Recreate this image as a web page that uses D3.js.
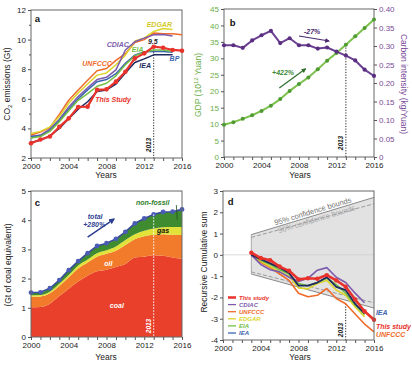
<!DOCTYPE html>
<html>
<head>
<meta charset="utf-8">
<script src="https://cdnjs.cloudflare.com/ajax/libs/d3/7.8.5/d3.min.js"></script>
<style>
body { margin: 0; background: #fff; }
svg { font-family: "Liberation Sans", Arial, sans-serif; }
.axis text { font-size: 8px; fill: #222; }
.axis path, .axis line { stroke: #555; }
.ttl { font-size: 8.5px; fill: #222; }
.lab { font-size: 7px; font-weight: bold; font-style: italic; }
.plab { font-size: 9.5px; font-weight: bold; }
</style>
</head>
<body>
<div id="chart"></div>
<script>
// ---- data ----
var years = [2000,2001,2002,2003,2004,2005,2006,2007,2008,2009,2010,2011,2012,2013,2014,2015,2016];
var labelYears = [2000,2004,2008,2012,2016];

// a: CO2 emissions (Gt)
var thisStudy = [3.0,3.25,3.45,4.1,4.68,5.45,5.47,6.6,6.64,7.16,7.83,8.73,9.07,9.52,9.45,9.3,9.25];
var unfccc = [3.55,3.75,4.05,4.95,5.9,6.6,7.25,7.9,8.05,8.6,9.05,9.8,10.0,10.45,10.4,10.4,10.33];
var edgar  = [3.65,3.8,4.1,4.8,5.7,6.4,7.0,7.6,7.75,8.3,8.95,9.9,10.1,10.55,10.75,10.68];
var cdiac  = [3.45,3.55,3.95,4.6,5.45,6.15,6.75,7.3,7.45,7.95,9.3,9.85,10.1,10.33,10.35,10.25];
var eia    = [3.35,3.45,3.8,4.45,5.2,5.9,6.35,6.85,7.05,7.55,8.3,8.9,9.15,9.3,9.3,9.2];
var bp     = [3.45,3.5,3.85,4.55,5.3,6.0,6.6,7.15,7.3,7.7,8.4,8.95,9.18,9.2,9.2,9.15];
var iea    = [3.05,3.2,3.5,4.0,4.65,5.3,5.8,6.5,6.6,7.0,7.75,8.45,8.7,8.97,8.97,8.97];

// b: GDP (10^12 Yuan) and carbon intensity (kg/Yuan)
var gdp = [9.8,10.6,11.6,12.7,14.0,15.6,17.6,20.1,22.2,24.2,26.7,29.3,31.6,34.1,36.7,39.2,41.8];
var intensity = [0.302,0.302,0.295,0.315,0.329,0.341,0.308,0.321,0.302,0.302,0.293,0.296,0.285,0.274,0.261,0.236,0.219];

// c: energy consumption (Gt of coal equivalent)
var coal      = [1.02,1.03,1.14,1.4,1.65,1.9,2.1,2.25,2.3,2.4,2.5,2.72,2.75,2.8,2.78,2.72,2.68];
var oil       = [0.36,0.36,0.36,0.35,0.4,0.45,0.45,0.5,0.55,0.55,0.65,0.63,0.7,0.7,0.74,0.78,0.81];
var gas       = [0.05,0.05,0.05,0.07,0.07,0.1,0.1,0.12,0.12,0.15,0.17,0.17,0.19,0.22,0.24,0.27,0.28];
var nonFossil = [0.09,0.09,0.12,0.13,0.17,0.15,0.22,0.25,0.24,0.26,0.28,0.37,0.42,0.48,0.52,0.52,0.6];

// d: recursive cumulative sum, 2003 onwards
var cusumYears = [2003,2004,2005,2006,2007,2008,2009,2010,2011,2012,2013,2014,2015,2016];
var cuThis   = [0.1,-0.15,-0.25,-0.55,-0.75,-1.15,-1.1,-1.12,-0.95,-1.2,-1.5,-2.1,-2.65,-3.05];
var cuCdiac  = [0,-0.45,-0.7,-0.8,-1.05,-1.25,-1.1,-0.72,-0.6,-1.05,-1.3,-1.8,-2.25];
var cuUnfccc = [0,-0.35,-0.6,-0.9,-1.2,-1.8,-1.97,-1.9,-1.58,-2.05,-2.3,-2.78,-3.25,-3.62];
var cuEdgar  = [0,-0.3,-0.55,-0.8,-1.0,-1.55,-1.6,-1.35,-1.2,-1.65,-1.9,-2.45,-2.9];
var cuEia    = [0,-0.25,-0.45,-0.7,-0.9,-1.35,-1.45,-1.3,-1.1,-1.4,-1.8,-2.35,-2.8];
var cuIea    = [0,-0.2,-0.4,-0.6,-0.85,-1.45,-1.45,-1.3,-1.05,-1.5,-1.66,-2.3,-2.75];
var bound95 = [[2003,0.95,-0.9],[2016,2.7,-2.5]];
var bound90 = [[2003,0.82,-0.8],[2016,2.4,-2.25]];

// ---- colours ----
var cRed = "#e8322b", cUnf = "#f06a2a", cEdgar = "#dcd52e", cCdiac = "#7d5cab",
    cEia = "#74c045", cBp = "#3d64b0", cIea = "#1f2a5e";

var svg = d3.select("#chart").append("svg").attr("width", 412).attr("height", 365);

var defs = svg.append("defs");
function marker(id, color) {
  defs.append("marker").attr("id", id).attr("viewBox", "0 0 10 10")
    .attr("refX", 8).attr("refY", 5).attr("markerWidth", 4).attr("markerHeight", 4)
    .attr("orient", "auto")
    .append("path").attr("d", "M0,0L10,5L0,10z").attr("fill", color);
}
marker("arP", "#4a2a6e");
marker("arG", "#2f6e2b");
marker("arB", "#2e3f92");

function frame(x, y) {
  svg.append("rect")
    .attr("x", x.range()[0]).attr("y", y.range()[1])
    .attr("width", x.range()[1] - x.range()[0])
    .attr("height", y.range()[0] - y.range()[1])
    .attr("fill", "none").attr("stroke", "#666").attr("stroke-width", 1);
}

function xAxis(x, y) {
  var g = svg.append("g").attr("class", "axis")
    .attr("transform", "translate(0," + y.range()[0] + ")")
    .call(d3.axisBottom(x).tickValues(years).tickSize(3).tickPadding(2)
      .tickFormat(function (d) { return labelYears.indexOf(d) >= 0 ? String(d) : ""; }));
  g.select(".domain").remove();
}

function yAxis(x, y, major, minor, fmt, right, color) {
  var ax = right ? d3.axisRight(y) : d3.axisLeft(y);
  var g = svg.append("g").attr("class", "axis")
    .attr("transform", "translate(" + (right ? x.range()[1] : x.range()[0]) + ",0)")
    .call(ax.tickValues(major).tickSize(3).tickPadding(2).tickFormat(fmt));
  g.select(".domain").remove();
  if (color) g.selectAll("text").style("fill", color);
  if (minor) {
    var m = svg.append("g").attr("class", "axis")
      .attr("transform", "translate(" + x.range()[0] + ",0)")
      .call(d3.axisLeft(y).tickValues(minor).tickSize(2).tickFormat(""));
    m.select(".domain").remove();
  }
}

function vtitle(txt, x, y, color, rot) {
  return svg.append("text").attr("class", "ttl")
    .attr("transform", "translate(" + x + "," + y + ") rotate(" + (rot || -90) + ")")
    .attr("text-anchor", "middle").style("fill", color || "#222").text(txt);
}

function seriesLine(x, y, xs, vals, color, w) {
  var pts = vals.map(function (v, i) { return [xs[i], v]; });
  svg.append("path").datum(pts)
    .attr("d", d3.line().x(function (d) { return x(d[0]); }).y(function (d) { return y(d[1]); }))
    .attr("fill", "none").attr("stroke", color).attr("stroke-width", w)
    .attr("stroke-linejoin", "round");
  return pts;
}

function dots(x, y, pts, color, r) {
  svg.append("g").selectAll("circle").data(pts).enter().append("circle")
    .attr("cx", function (d) { return x(d[0]); }).attr("cy", function (d) { return y(d[1]); })
    .attr("r", r).attr("fill", color);
}

function label(x, y, t, xv, yv, color, anchor, cls) {
  svg.append("text").attr("class", cls || "lab")
    .attr("x", x(xv)).attr("y", y(yv)).attr("dy", "0.35em")
    .attr("text-anchor", anchor || "middle").style("fill", color).text(t);
}

function vtext(px, py, t, color) {
  svg.append("text").attr("class", "lab")
    .attr("transform", "translate(" + px + "," + py + ") rotate(-90)")
    .attr("text-anchor", "middle").style("fill", color).style("font-size", "6.5px").text(t);
}

// ================= panel a =================
var xa = d3.scaleLinear().domain([2000, 2016]).range([31, 182]);
var ya = d3.scaleLinear().domain([2, 12]).range([158, 10]);
frame(xa, ya);
xAxis(xa, ya);
yAxis(xa, ya, [2,4,6,8,10,12], [3,5,7,9,11], function (d) { return d; });

svg.append("line").attr("x1", xa(2013)).attr("x2", xa(2013))
  .attr("y1", ya(9.52)).attr("y2", ya(2))
  .attr("stroke", "#222").attr("stroke-dasharray", "1.2,1.5").attr("stroke-width", 1);
vtext(xa(2013) - 2.5, 145, "2013", "#222");

[[unfccc, cUnf], [edgar, cEdgar], [cdiac, cCdiac], [bp, cBp], [eia, cEia], [iea, cIea]]
  .forEach(function (s) { seriesLine(xa, ya, years, s[0], s[1], 1.5); });
var ptsA = seriesLine(xa, ya, years, thisStudy, cRed, 2.2);
dots(xa, ya, ptsA, cRed, 2.3);

label(xa, ya, "EDGAR", 2013.6, 11.0, "#d2c82a");
label(xa, ya, "CDIAC", 2009.2, 9.68, cCdiac);
label(xa, ya, "UNFCCC", 2007.0, 8.4, cUnf);
label(xa, ya, "EIA", 2011.3, 9.3, cEia);
label(xa, ya, "9.5", 2012.9, 9.86, "#222");
label(xa, ya, "IEA", 2012.1, 8.24, cIea);
label(xa, ya, "BP", 2015.2, 8.7, cBp);
label(xa, ya, "This Study", 2008.7, 5.97, cRed);
label(xa, ya, "a", 2000.4, 11.4, "#111", "start", "plab");

var ta = svg.append("text").attr("class", "ttl")
  .attr("transform", "translate(10,84) rotate(-90)").attr("text-anchor", "middle");
ta.append("tspan").text("CO");
ta.append("tspan").attr("dy", 2).style("font-size", "6px").text("2");
ta.append("tspan").attr("dy", -2).text(" emissions (Gt)");
svg.append("text").attr("class", "ttl").attr("x", 106).attr("y", 178).attr("text-anchor", "middle").text("Years");

// ================= panel b =================
var xb = d3.scaleLinear().domain([2000, 2016]).range([224, 374]);
var yb = d3.scaleLinear().domain([0, 45]).range([157, 9]);
var yb2 = d3.scaleLinear().domain([0, 0.4]).range([157, 9]);
frame(xb, yb);
xAxis(xb, yb);
yAxis(xb, yb, d3.range(0, 46, 5), null, function (d) { return d; }, false, "#6aae46");
yAxis(xb, yb2, [0,0.05,0.1,0.15,0.2,0.25,0.3,0.35,0.4], null,
  function (d) { return d === 0 ? "0" : d3.format(".2f")(d); }, true, "#7b4a9a");

svg.append("line").attr("x1", xb(2013)).attr("x2", xb(2013))
  .attr("y1", yb(34.1)).attr("y2", yb(0))
  .attr("stroke", "#222").attr("stroke-dasharray", "1.2,1.5").attr("stroke-width", 1);
vtext(xb(2013) - 2.5, 143, "2013", "#222");

var ptsG = seriesLine(xb, yb, years, gdp, "#7cc24c", 2);
dots(xb, yb, ptsG, "#4f9a32", 2);
var ptsI = seriesLine(xb, yb2, years, intensity, "#6b3f92", 2);
dots(xb, yb2, ptsI, "#5a2f82", 2.1);

svg.append("line").attr("x1", xb(2008)).attr("y1", yb2(0.327))
  .attr("x2", xb(2011.2)).attr("y2", yb2(0.3135))
  .attr("stroke", "#4a2a6e").attr("stroke-width", 1.2).attr("marker-end", "url(#arP)");
label(xb, yb2, "-27%", 2009.4, 0.338, "#4a2a6e");
svg.append("line").attr("x1", xb(2005.9)).attr("y1", yb(21))
  .attr("x2", xb(2008.7)).attr("y2", yb(26.8))
  .attr("stroke", "#2f6e2b").attr("stroke-width", 1.2).attr("marker-end", "url(#arG)");
label(xb, yb, "+422%", 2006.3, 25.6, "#3e8a36");
label(xb, yb, "b", 2000.6, 40.8, "#111", "start", "plab");

var tb = svg.append("text").attr("class", "ttl").style("fill", "#6aae46")
  .attr("transform", "translate(201,85) rotate(-90)").attr("text-anchor", "middle");
tb.append("tspan").text("GDP (10");
tb.append("tspan").attr("dy", -3).style("font-size", "6px").text("12");
tb.append("tspan").attr("dy", 3).text(" Yuan)");
vtitle("Carbon intensity (kg/Yuan)", 401, 84, "#7b4a9a", 90);
svg.append("text").attr("class", "ttl").attr("x", 300).attr("y", 178).attr("text-anchor", "middle").text("Years");

// ================= panel c =================
var xc = d3.scaleLinear().domain([2000, 2016]).range([31, 182]);
var yc = d3.scaleLinear().domain([0, 5]).range([337, 191]);
var table = years.map(function (yr, i) {
  return { year: yr, coal: coal[i], oil: oil[i], gas: gas[i], nonFossil: nonFossil[i] };
});
var keys = ["coal", "oil", "gas", "nonFossil"];
var fills = { coal: "#e8402b", oil: "#f27b2b", gas: "#e2e23a", nonFossil: "#3f8b2f" };
var stack = d3.stack().keys(keys)(table);
var area = d3.area().curve(d3.curveMonotoneX)
  .x(function (d) { return xc(d.data.year); })
  .y0(function (d) { return yc(d[0]); }).y1(function (d) { return yc(d[1]); });
svg.append("g").selectAll("path").data(stack).enter().append("path")
  .attr("d", area).attr("fill", function (d) { return fills[d.key]; });

var totals = table.map(function (d) { return [d.year, d.coal + d.oil + d.gas + d.nonFossil]; });
seriesLine(xc, yc, years, totals.map(function (d) { return d[1]; }), "#3a4a9c", 1.6);
dots(xc, yc, totals, "#4b5cb6", 2.4);

svg.append("line").attr("x1", xc(2013)).attr("x2", xc(2013))
  .attr("y1", yc(totals[13][1])).attr("y2", yc(0))
  .attr("stroke", "#fff").attr("stroke-dasharray", "1.5,1.5").attr("stroke-width", 1);
vtext(xc(2013) - 3, 326, "2013", "#fff");

frame(xc, yc);
xAxis(xc, yc);
yAxis(xc, yc, [0,1,2,3,4,5], null, function (d) { return d; });

label(xc, yc, "coal", 2009.1, 1.06, "#fff");
label(xc, yc, "oil", 2008.2, 2.53, "#fff");
label(xc, yc, "gas", 2014.0, 3.63, "#111");
label(xc, yc, "non-fossil", 2012.9, 4.6, "#2e7d2a");
svg.append("line").attr("x1", xc(2015.4)).attr("y1", yc(4.52))
  .attr("x2", xc(2015.5)).attr("y2", yc(4.02)).attr("stroke", "#1f4e1a").attr("stroke-width", 0.8);
svg.append("line").attr("x1", xc(2006.0)).attr("y1", yc(3.42))
  .attr("x2", xc(2008.8)).attr("y2", yc(4.04))
  .attr("stroke", "#2e3f92").attr("stroke-width", 1.5).attr("marker-end", "url(#arB)");
label(xc, yc, "total", 2006.8, 4.12, "#2e3f92");
label(xc, yc, "+280%", 2006.7, 3.85, "#2e3f92");
label(xc, yc, "c", 2000.4, 4.6, "#111", "start", "plab");

vtitle("(Gt of coal equivalent)", 11, 265);
svg.append("text").attr("class", "ttl").attr("x", 106).attr("y", 360).attr("text-anchor", "middle").text("Years");

// ================= panel d =================
var xd = d3.scaleLinear().domain([2000, 2016]).range([223, 374]);
var yd = d3.scaleLinear().domain([-4, 3]).range([340, 191]);

var band = d3.area().x(function (d) { return xd(d[0]); })
  .y0(function (d) { return yd(d[2]); }).y1(function (d) { return yd(d[1]); });
svg.append("path").datum(bound95).attr("d", band).attr("fill", "#e2e2e2");
svg.append("line").attr("x1", xd(2003)).attr("x2", xd(2003))
  .attr("y1", yd(bound95[0][1])).attr("y2", yd(bound95[0][2])).attr("stroke", "#999").attr("stroke-width", 0.8);
function bline(b, idx, dash, col) {
  svg.append("path").datum(b)
    .attr("d", d3.line().x(function (d) { return xd(d[0]); }).y(function (d) { return yd(d[idx]); }))
    .attr("fill", "none").attr("stroke", col).attr("stroke-width", 1)
    .attr("stroke-dasharray", dash);
}
bline(bound95, 1, null, "#888");
bline(bound95, 2, null, "#888");
bline(bound90, 1, "4,2", "#9a9a9a");
bline(bound90, 2, "4,2", "#9a9a9a");

svg.append("line").attr("x1", xd(2000)).attr("x2", xd(2016))
  .attr("y1", yd(0)).attr("y2", yd(0)).attr("stroke", "#cfcfcf").attr("stroke-width", 0.8);

// rotated bound labels
var ang = Math.atan2(yd(bound95[1][1]) - yd(bound95[0][1]), xd(2016) - xd(2003)) * 180 / Math.PI;
function boundText(t, yr, off, col) {
  var fr = (yr - 2003) / 13;
  var v = bound95[0][1] + fr * (bound95[1][1] - bound95[0][1]);
  svg.append("text").attr("transform", "translate(" + xd(yr) + "," + (yd(v) + off) + ") rotate(" + ang + ")")
    .attr("text-anchor", "middle").style("font-size", "7.5px").style("fill", col).text(t);
}
boundText("95% confidence bounds", 2009.6, -2, "#707070");
boundText("90% confidence bounds", 2010.0, 7, "#a5a5a5");

svg.append("line").attr("x1", xd(2013)).attr("x2", xd(2013))
  .attr("y1", yd(-2.3)).attr("y2", yd(-4))
  .attr("stroke", "#222").attr("stroke-dasharray", "1.2,1.5").attr("stroke-width", 1);
vtext(xd(2013) - 2.5, 330, "2013", "#222");

var dSeries = [
  { name: "UNFCCC", v: cuUnfccc, c: cUnf, w: 1.6 },
  { name: "EDGAR", v: cuEdgar, c: cEdgar, w: 1.6 },
  { name: "EIA", v: cuEia, c: cEia, w: 1.6 },
  { name: "CDIAC", v: cuCdiac, c: cCdiac, w: 1.6 },
  { name: "IEA", v: cuIea, c: cIea, w: 1.8 }
];
dSeries.forEach(function (s) { seriesLine(xd, yd, cusumYears, s.v, s.c, s.w); });
var ptsD = seriesLine(xd, yd, cusumYears, cuThis, cRed, 2.6);
dots(xd, yd, ptsD, cRed, 2.2);

frame(xd, yd);
xAxis(xd, yd);
yAxis(xd, yd, [-4,-3,-2,-1,0,1,2,3], null, function (d) { return d; });

// legend
var legend = [["This study", cRed, 2.5], ["CDIAC", cCdiac, 1.3], ["UNFCCC", cUnf, 1.3],
              ["EDGAR", cEdgar, 1.3], ["EIA", cEia, 1.3], ["IEA", cBp, 1.3]];
var lg = svg.append("g").selectAll("g").data(legend).enter().append("g")
  .attr("transform", function (d, i) { return "translate(228," + (297.5 + i * 7.1) + ")"; });
lg.append("line").attr("x1", 0).attr("x2", 8)
  .attr("stroke", function (d) { return d[1]; }).attr("stroke-width", function (d) { return d[2]; });
lg.append("text").attr("class", "lab").attr("x", 11).attr("dy", "0.35em")
  .style("font-size", "6px").style("fill", function (d) { return d[1]; })
  .text(function (d) { return d[0]; });

label(xd, yd, "IEA", 2016.2, -2.7, cBp, "start");
label(xd, yd, "This study", 2016.2, -3.35, cRed, "start");
label(xd, yd, "UNFCCC", 2016.2, -3.75, cUnf, "start");
label(xd, yd, "d", 2000.5, 2.5, "#111", "start", "plab");

vtitle("Recursive Cumulative sum", 207, 262);
svg.append("text").attr("class", "ttl").attr("x", 300).attr("y", 360).attr("text-anchor", "middle").text("Years");
</script>
</body>
</html>
